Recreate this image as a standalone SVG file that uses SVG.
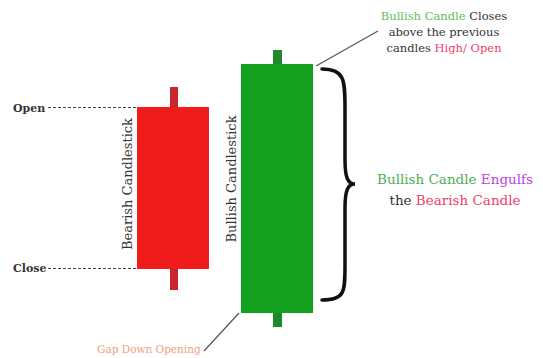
<svg xmlns="http://www.w3.org/2000/svg" width="543" height="358" viewBox="0 0 543 358">
<style>
text{font-family:"DejaVu Serif","Liberation Serif",serif;}
.lbl{fill:#333;}
.dash{stroke:#444;stroke-width:1;stroke-dasharray:3,2;fill:none;}
.ptr{stroke:#555;stroke-width:1.2;fill:none;}
.grn{fill:#5cc05c;}
.red{fill:#f0406a;}
.pur{fill:#c040e0;}
</style>
<rect width="543" height="358" fill="#fff"/>
<g id="bearish">
<rect x="170" y="87" width="8" height="203" fill="#c8262e"/>
<rect x="137" y="107" width="72" height="162" fill="#f01c1c"/>
<text class="lbl" transform="translate(132,184) rotate(-90)" text-anchor="middle" font-size="13">Bearish Candlestick</text>
</g>
<g id="bullish">
<rect x="273" y="50" width="9" height="277" fill="#1f8a2a"/>
<rect x="241" y="64" width="72" height="249" fill="#12a01e"/>
<text class="lbl" transform="translate(236,179) rotate(-90)" text-anchor="middle" font-size="13">Bullish Candlestick</text>
</g>
<g id="open"><text class="lbl" x="13" y="112" font-size="11" font-weight="bold">Open</text></g>
<g id="close"><text class="lbl" x="13" y="272" font-size="11" font-weight="bold">Close</text></g>
<g id="brace"><path d="M322,69 C345,69 345,80 345,110 L345,160 C345,178 348,184 355,184 C348,184 345,190 345,208 L345,265 C345,292 345,300 322,300" fill="none" stroke="#111" stroke-width="3.5" stroke-linecap="round"/></g>
<g id="note-top">
<text x="444" y="20" text-anchor="middle" font-size="11.5" fill="#333"><tspan class="grn">Bullish Candle</tspan> Closes</text>
<text x="444" y="36" text-anchor="middle" font-size="11.5" fill="#333">above the previous</text>
<text x="444" y="52" text-anchor="middle" font-size="11.5" fill="#333">candles <tspan class="red">High/ Open</tspan></text>
</g>
<g id="note-mid">
<text x="455" y="184" text-anchor="middle" font-size="13.5" fill="#333"><tspan fill="#4cb050">Bullish Candle</tspan> <tspan class="pur">Engulfs</tspan></text>
<text x="455" y="205" text-anchor="middle" font-size="13.5" fill="#333">the <tspan class="red">Bearish Candle</tspan></text>
</g>
<g id="note-gap"><text x="97" y="353" font-size="10.5" fill="#f0a080">Gap Down Opening</text></g>
<g id="connectors">
<line class="dash" x1="48" y1="107.5" x2="137" y2="107.5"/>
<line class="dash" x1="48" y1="268.5" x2="137" y2="268.5"/>
<line class="ptr" x1="316" y1="66" x2="378" y2="31"/>
<line class="ptr" x1="239" y1="313" x2="204" y2="351"/>
</g>
</svg>
